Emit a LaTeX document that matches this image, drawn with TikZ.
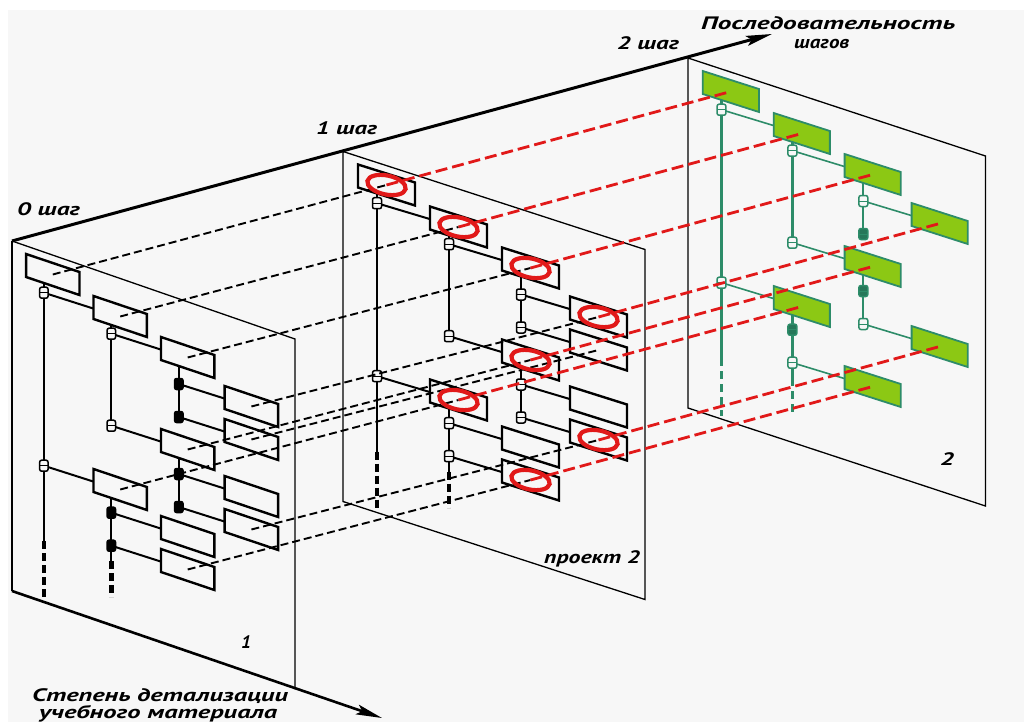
\documentclass[tikz,border=0pt]{standalone}
\usepackage{fontspec}
\usepackage{graphicx}
\usetikzlibrary{arrows.meta,calc}
\newfontfamily\labfont{PT Sans}
\definecolor{bgc}{RGB}{247,247,247}
\definecolor{tealg}{RGB}{45,140,105}
\definecolor{gfill}{RGB}{140,200,20}
\definecolor{redc}{RGB}{225,25,25}

% box coordinates: name, x, y (top-left, panel-local)
\newcommand\defbox[3]{%
  \coordinate (#1) at ({#2+28.5},{#3+20.5});
  \coordinate (#1l) at (#2,{#3+12.6});
  \coordinate (#1tl) at (#2,#3);}
\newcommand\drawbox[1]{%
  \path[boxst] (#1tl) -- ++(57,18) -- ++(0,23) -- ++(-57,-18) -- cycle;}
\newcommand\drawjunc[2]{%
  \path[#2] ($(#1)+(-4.5,-5.5)$) rectangle ($(#1)+(4.5,5.5)$);
  \draw[jmid] ($(#1)+(-4.5,0)$) -- ($(#1)+(4.5,0)$);}
\newcommand\tree[2]{%
  \defbox{#1b1}{15}{13}
  \defbox{#1b2}{87}{55}
  \defbox{#1b3}{159}{96}
  \defbox{#1b4}{227}{145}
  \defbox{#1b5}{227}{178}
  \defbox{#1b6}{159}{188}
  \defbox{#1b7}{87}{228}
  \defbox{#1b8}{227}{235}
  \defbox{#1b9}{227}{268}
  \defbox{#1b10}{159}{275}
  \defbox{#1b11}{159}{308}
  \coordinate (#1j2) at (34,51.7);
  \coordinate (#1j7) at (34,224.7);
  \coordinate (#1j3) at (106,92.7);
  \coordinate (#1j6) at (106,184.7);
  \coordinate (#1j4) at (178,143);
  \coordinate (#1j5) at (178,176);
  \coordinate (#1j8) at (178,233);
  \coordinate (#1j9) at (178,266);
  \coordinate (#1j10) at (106,271.7);
  \coordinate (#1j11) at (106,304.7);
  \coordinate (#1t0a) at (34,42);
  \coordinate (#1t0b) at (34,300);
  \coordinate (#1t0c) at (34,358);
  \coordinate (#1t1a) at (106,84);
  \coordinate (#1t1b) at (106,188);
  \coordinate (#1t1c) at (106,257);
  \coordinate (#1t1d) at (106,320);
  \coordinate (#1t1e) at (106,356);
  \coordinate (#1t2a) at (178,125);
  \coordinate (#1t2b) at (178,180);
  \coordinate (#1t2c) at (178,217);
  \coordinate (#1t2d) at (178,270);
  \draw[trunk] (#1t0a) -- (#1t0b);
  \draw[trunkd] (#1t0b) -- (#1t0c);
  \draw[trunk] (#1t1a) -- (#1t1b);
  \draw[trunk] (#1t1c) -- (#1t1d);
  \draw[trunkd] (#1t1d) -- (#1t1e);
  \draw[trunk] (#1t2a) -- (#1t2b);
  \draw[trunk] (#1t2c) -- (#1t2d);
  \foreach \k in {2,3,4,6,7,9,11} {\draw[link] (#1j\k) -- (#1b\k l);}
  \ifnum#2=1
    \foreach \k in {5,8,10} {\draw[link] (#1j\k) -- (#1b\k l);}
  \fi
  \foreach \k in {1,2,3,4,6,7,9,11} {\drawbox{#1b\k}}
  \ifnum#2=1
    \foreach \k in {5,8,10} {\drawbox{#1b\k}}
  \fi
  \foreach \k in {2,7,3,6} {\drawjunc{#1j\k}{jA}}
  \foreach \k in {4,9,11} {\drawjunc{#1j\k}{jB}}
  \foreach \k in {5,8,10} {\drawjunc{#1j\k}{jC}}
}
\newcommand\panel[1]{%
  \coordinate (#1tl) at (0,0);
  \coordinate (#1tr) at (302,98);
  \coordinate (#1br) at (302,448);
  \coordinate (#1bl) at (0,350);}

\begin{document}
\begin{tikzpicture}[x=1pt,y=-1pt,
  lab/.style={inner sep=0pt,anchor=base west,
    font=\labfont\fontsize{18}{20}\selectfont\bfseries\itshape},
  edge/.style={draw=black,line width=1.3pt},
  axisln/.style={draw=black,line width=3pt,
    -{Stealth[length=26pt,width=10pt,inset=5pt]}},
  bdash/.style={draw=black,line width=1.9pt,dash pattern=on 8pt off 4pt},
  rdash/.style={draw=redc,line width=2.8pt,dash pattern=on 12pt off 5pt},
  ring/.style={draw=redc,line width=4.2pt}]

\useasboundingbox (0,0) rectangle (1024,722);
\fill[white] (0,0) rectangle (1024,722);
\fill[bgc] (8,10) rectangle (1024,722);

% ---------- panel 1 ----------
\begin{scope}[shift={(12,241)},xscale=0.937,
  trunk/.style={draw=black,line width=2.2pt},
  trunkd/.style={draw=black,line width=4.5pt,dash pattern=on 8pt off 4pt},
  link/.style={draw=black,line width=2pt},
  boxst/.style={draw=black,line width=2.4pt},
  jmid/.style={draw=black,line width=1pt},
  jA/.style={draw=black,line width=1.5pt,fill=bgc,rounded corners=2pt},
  jB/.style={draw=black,line width=1.5pt,fill=black,rounded corners=2pt},
  jC/.style={draw=black,line width=1.5pt,fill=black,rounded corners=2pt}]
  \panel{p1}
  \draw[edge] (p1tl) -- (p1tr) -- (p1br);
  \draw[line width=2.8pt] (p1tl) -- (p1bl);
  \tree{p1}{1}
\end{scope}

% ---------- panel 2 ----------
\begin{scope}[shift={(343,151.5)},
  trunk/.style={draw=black,line width=2.2pt},
  trunkd/.style={draw=black,line width=4.5pt,dash pattern=on 8pt off 4pt},
  link/.style={draw=black,line width=2pt},
  boxst/.style={draw=black,line width=2.4pt},
  jmid/.style={draw=black,line width=1pt},
  jA/.style={draw=black,line width=1.5pt,fill=bgc,rounded corners=2pt},
  jB/.style={draw=black,line width=1.5pt,fill=bgc,rounded corners=2pt},
  jC/.style={draw=black,line width=1.5pt,fill=bgc,rounded corners=2pt}]
  \panel{p2}
  \draw[edge] (p2tl) -- (p2tr) -- (p2br) -- (p2bl) -- cycle;
  \tree{p2}{1}
\end{scope}

% ---------- panel 3 ----------
\begin{scope}[shift={(688,58)},xscale=0.985,
  trunk/.style={draw=tealg,line width=2.2pt},
  trunkd/.style={draw=tealg,line width=3.2pt,dash pattern=on 8pt off 5pt},
  link/.style={draw=tealg,line width=1.6pt},
  boxst/.style={draw=tealg,fill=gfill,line width=1.8pt},
  jmid/.style={draw=tealg,line width=1pt},
  jA/.style={draw=tealg,line width=1.5pt,fill=bgc,rounded corners=2pt},
  jB/.style={draw=tealg,line width=1.5pt,fill=bgc,rounded corners=2pt},
  jC/.style={draw=tealg,line width=1.5pt,fill=tealg!85!black,rounded corners=2pt}]
  \panel{p3}
  \draw[edge] (p3tl) -- (p3tr) -- (p3br) -- (p3bl) -- cycle;
  \tree{p3}{0}
\end{scope}

% ---------- axes ----------
\coordinate (topend) at (772,34);
\coordinate (botend) at (382,718);
\draw[axisln] (p1tl) -- (topend);
\draw[axisln,line width=2.6pt] (p1bl) -- (botend);

% ---------- projections 1 -> 2 ----------
\foreach \k in {1,2,3,4,5,6,7,9,11} {\draw[bdash] (p1b\k) -- (p2b\k);}

% ---------- red rings and projections 2 -> 3 ----------
\foreach \k in {1,2,3,4,6,7,9,11} {
  \draw[ring,rotate around={-12:(p2b\k)}] (p2b\k) ellipse [x radius=19.5pt,y radius=9.5pt];
  \draw[rdash] (p2b\k) -- (p3b\k);
}

% ---------- labels ----------
\node[lab] (l0) at (17,215) {\resizebox{63pt}{\height}{0 шаг}};
\node[lab] (l1) at (316,135) {\resizebox{61pt}{\height}{1 шаг}};
\node[lab] (l2) at (617,50) {\resizebox{62pt}{\height}{2 шаг}};
\node[lab] (seq1) at (701,30) {\resizebox{254pt}{\height}{Последовательность}};
\node[lab] (seq2) at (794,49) {\resizebox{55pt}{\height}{шагов}};
\node[lab] (det1) at (32,701) {\resizebox{256pt}{\height}{Степень детализации}};
\node[lab] (det2) at (39,718) {\resizebox{238pt}{\height}{учебного материала}};
\node[lab] (proj) at (544,563) {\resizebox{96pt}{\height}{проект 2}};
\node[lab] (n1) at (241,648) {\resizebox{10pt}{\height}{1}};
\node[lab] (n2) at (940,465) {\resizebox{14pt}{\height}{2}};
\end{tikzpicture}
\end{document}
